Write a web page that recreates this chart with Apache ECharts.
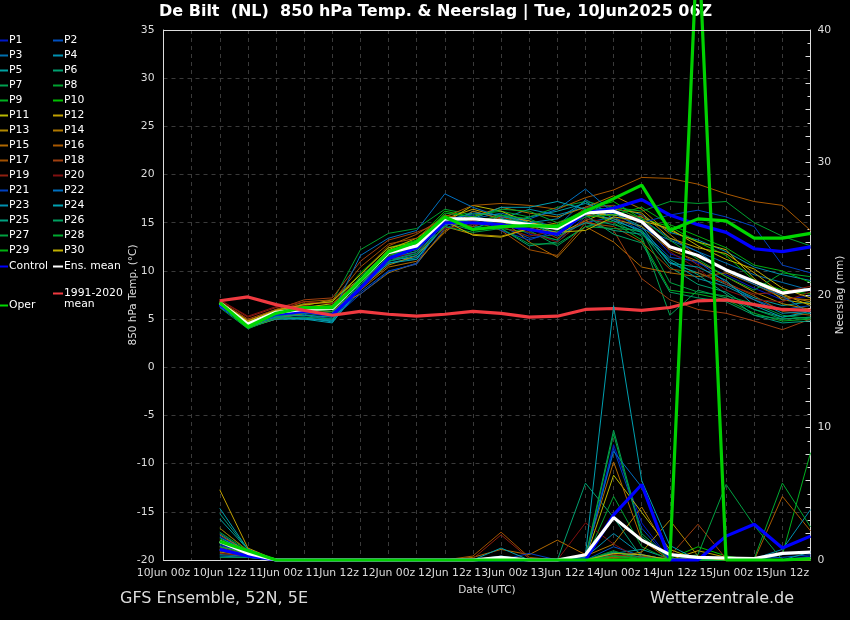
<!DOCTYPE html>
<html>
<head>
<meta charset="utf-8">
<title>De Bilt 850 hPa</title>
<script src="https://cdn.jsdelivr.net/npm/echarts@6/dist/echarts.min.js"></script>
<style>
  html, body { margin: 0; padding: 0; background: #000; }
  #chart { width: 850px; height: 620px; }
</style>
</head>
<body>
<div id="chart"></div>
<script>
// time steps on the axis, 6 hourly; the model run starts at 10Jun 12z
const times = ['10Jun 00z','10Jun 06z','10Jun 12z','10Jun 18z','11Jun 00z','11Jun 06z','11Jun 12z','11Jun 18z',
  '12Jun 00z','12Jun 06z','12Jun 12z','12Jun 18z','13Jun 00z','13Jun 06z','13Jun 12z','13Jun 18z',
  '14Jun 00z','14Jun 06z','14Jun 12z','14Jun 18z','15Jun 00z','15Jun 06z','15Jun 12z','15Jun 18z'];

const memberColors = ['#0018c8','#0050c0','#0070b0','#0090b0','#00a0a0','#00a070','#00a050','#00a030','#00b020','#00c000',
  '#b8b800','#c0a000','#b08800','#b07800','#b06800','#a85800','#a05000','#a04010','#902010','#801010',
  '#0040c0','#0070c0','#0090b0','#00a0b0','#00a080','#00a060','#00a040','#00a830','#00b010','#c0b000'];

// 850 hPa temperature
const tempP1  = [6.4,4.4,5.4,5.7,5.2,8.0,11.0,12.0,14.8,15.0,15.2,13.8,13.2,15.6,16.0,15.0,11.8,10.8,9.6,8.2,7.0,7.4];
const tempP2  = [6.5,4.2,5.2,5.5,5.0,7.8,10.0,10.7,14.4,15.6,14.6,13.4,13.8,15.0,15.6,14.2,11.4,11.0,8.8,7.0,6.0,6.4];
const tempP3  = [6.3,4.3,5.3,5.4,4.9,8.4,11.2,11.8,15.0,15.4,16.0,15.2,14.6,17.4,15.8,15.4,13.4,12.0,10.8,9.6,8.8,8.0];
const tempP4  = [6.6,4.5,5.1,5.2,4.7,8.2,10.8,11.4,14.6,16.2,15.4,16.4,15.8,16.6,16.8,15.8,14.0,13.2,12.0,10.4,9.6,9.0];
const tempP5  = [6.4,4.1,5.0,5.1,4.8,8.6,11.4,11.2,15.2,15.0,14.8,15.6,16.2,17.0,16.0,14.6,10.8,9.8,8.6,7.2,6.4,6.8];
const tempP6  = [6.5,4.3,5.5,5.8,5.6,9.0,11.6,12.2,15.4,14.6,14.4,12.6,13.0,15.4,14.8,14.0,10.4,8.6,7.8,6.0,5.2,5.6];
const tempP7  = [6.2,4.0,5.2,5.6,5.4,8.8,11.4,12.4,15.6,14.8,15.2,14.2,12.6,14.6,15.2,13.6,5.4,8.0,7.2,6.0,5.0,5.2];
const tempP8  = [6.6,4.6,5.8,6.6,6.8,12.2,13.9,14.4,16.4,15.8,16.2,15.6,16.6,17.2,16.6,16.2,17.2,17.0,17.2,15.0,13.6,12.6];
const tempP9  = [6.7,4.4,5.6,6.0,6.0,9.4,12.0,12.6,15.8,15.0,14.4,14.0,13.2,16.2,15.0,13.2,8.0,7.6,7.0,5.6,4.8,5.0];
const tempP10 = [6.8,4.5,5.9,6.3,6.4,9.8,12.4,13.2,16.2,15.6,15.0,14.6,14.8,16.4,17.2,15.4,14.6,13.0,11.6,9.0,8.0,7.6];
const tempP11 = [6.5,4.7,5.7,6.2,6.6,9.0,11.8,12.8,15.0,16.8,16.2,15.0,14.6,16.0,15.8,15.6,14.2,13.0,12.2,9.2,7.0,6.6];
const tempP12 = [6.6,4.8,6.0,6.4,7.0,9.2,12.2,13.4,15.4,16.4,15.6,15.2,13.8,15.2,16.4,16.0,13.4,12.4,11.8,9.8,7.6,6.4];
const tempP13 = [6.4,4.2,5.1,5.6,5.8,8.2,10.6,11.6,14.6,13.8,13.6,14.4,15.0,15.8,15.4,14.6,12.2,11.0,9.4,7.8,6.6,6.0];
const tempP14 = [6.7,4.3,5.4,6.0,6.2,7.6,9.8,10.8,14.2,15.6,16.6,16.0,15.6,16.6,17.8,16.4,13.8,11.4,10.2,8.8,7.4,6.8];
const tempP15 = [6.5,4.1,5.0,5.6,6.4,8.0,10.4,11.0,14.0,16.2,15.4,13.0,11.4,14.6,13.0,10.4,9.8,9.4,9.8,8.6,7.2,7.0];
const tempP16 = [6.8,4.9,5.8,6.8,7.0,9.6,12.6,13.8,15.6,16.8,17.0,16.8,16.4,17.6,18.4,19.7,19.6,19.0,18.0,17.2,16.8,14.2];
const tempP17 = [6.6,4.6,5.6,6.6,6.8,10.4,12.8,13.4,15.8,15.2,14.2,12.2,11.6,15.0,14.6,13.0,10.2,9.8,8.8,7.4,5.8,5.4];
const tempP18 = [6.9,5.0,6.0,7.0,7.2,11.0,13.2,14.0,15.2,14.6,15.6,14.8,13.4,15.2,14.2,9.2,7.0,6.0,5.6,4.8,3.9,5.0];
const tempP19 = [7.0,5.2,6.2,6.8,6.6,9.2,11.6,12.6,14.8,15.2,14.6,13.6,14.2,16.6,16.8,15.2,12.6,10.6,8.6,7.6,7.8,8.4];
const tempP20 = [7.0,5.3,6.3,6.4,6.2,8.8,11.2,12.0,14.4,14.8,15.0,14.0,13.0,15.4,15.0,15.8,12.0,10.2,8.0,7.0,6.8,7.8];
const tempP21 = [6.3,4.3,5.2,5.2,5.0,7.6,9.9,10.8,15.4,15.8,14.2,13.2,14.2,16.2,16.4,15.0,15.8,16.3,15.6,14.6,10.6,9.8];
const tempP22 = [6.5,4.5,5.4,5.6,5.6,11.6,13.4,14.2,18.0,16.6,15.6,15.4,16.4,18.5,16.0,14.4,13.2,12.0,10.0,8.6,7.4,5.6];
const tempP23 = [6.4,4.4,5.2,5.0,4.9,8.6,11.0,11.6,15.2,16.0,15.8,15.0,15.4,17.2,15.4,14.0,11.0,9.2,8.4,7.0,5.6,5.8];
const tempP24 = [6.3,4.2,5.0,5.0,4.6,8.4,10.8,11.2,14.8,15.4,16.6,16.6,17.2,16.4,15.2,14.2,10.8,10.4,9.0,6.4,5.2,5.8];
const tempP25 = [6.6,4.6,5.3,5.4,5.2,8.8,11.4,12.0,15.4,14.4,15.4,15.0,13.6,15.0,14.2,13.8,11.2,9.6,7.6,5.4,4.6,4.8];
const tempP26 = [6.4,4.3,5.5,5.6,5.4,9.2,11.8,12.2,15.0,14.2,15.8,14.8,14.0,15.8,13.8,12.9,7.8,7.2,6.8,5.4,5.0,5.2];
const tempP27 = [6.5,4.0,5.1,5.2,5.0,8.6,11.0,11.8,14.6,14.0,14.4,12.8,12.8,14.6,14.4,14.2,8.8,7.8,7.4,6.6,5.4,5.0];
const tempP28 = [6.7,4.5,5.7,6.0,5.8,9.4,12.0,12.8,16.0,15.6,16.4,16.2,15.0,16.2,16.6,15.4,13.2,11.2,9.4,8.0,9.8,9.4];
const tempP29 = [6.6,4.4,5.6,5.8,6.0,9.0,11.6,12.4,15.6,15.0,15.8,15.4,14.2,15.6,15.8,16.6,14.8,13.6,12.4,10.6,10.0,8.8];
const tempP30 = [6.8,4.8,5.9,6.5,6.8,9.6,12.4,13.0,15.2,13.7,13.5,14.4,14.0,14.2,15.6,15.2,14.4,12.6,11.2,10.2,8.2,7.2];
const tempControl = [6.5,4.4,5.5,5.8,5.4,8.2,11.3,12.4,15.0,15.0,14.8,14.3,13.8,16.0,16.5,17.4,15.8,14.8,14.0,12.3,12.0,12.5];
const tempMean    = [6.7,4.5,5.7,6.0,6.1,9.0,11.9,12.6,15.4,15.4,15.2,14.8,14.4,16.0,16.2,15.1,12.5,11.6,10.1,8.9,7.7,8.1];
const tempOper    = [6.7,4.2,5.6,6.2,6.2,9.0,12.0,13.0,15.6,14.3,14.6,14.7,14.6,16.2,17.5,18.9,14.2,15.4,15.2,13.4,13.4,13.9];
const tempClimate = [6.9,7.3,6.5,5.9,5.4,5.8,5.5,5.3,5.5,5.8,5.6,5.2,5.3,6.0,6.1,5.9,6.2,6.9,7.0,6.5,6.0,5.9];

// precipitation
const rainP1  = [1.8,0.6,0,0,0,0,0,0,0,0,0,0,0,0.1,8.7,2.8,0,0.1,0,0,0,0.3];
const rainP2  = [1.1,0.5,0,0,0,0,0,0,0,0,0,0,0,0,1.0,0.3,0,0,0,0.1,0.2,0.4];
const rainP3  = [2.0,0.6,0,0,0,0,0,0,0,0,0,0,0,0,0.6,0.2,0.1,0,0,0,0,0.2];
const rainP4  = [0.4,0.3,0,0,0,0,0,0,0,0,0.3,0,0,0.2,2.0,0.4,0,0,0,0,0,0];
const rainP5  = [3.1,0.8,0,0,0,0,0,0,0,0,0,0,0,0,0.5,0.8,0.1,0,0,0,0,0.6];
const rainP6  = [0.8,0.5,0,0,0,0,0,0,0,0,0,0,0,5.8,3.2,0.2,0,0,0,0,0,0];
const rainP7  = [1.4,0.6,0,0,0,0,0,0,0,0,0,0,0,0.2,9.8,2.0,0.1,0,0,0,0,0];
const rainP8  = [0.7,0.4,0,0,0,0,0,0,0,0,0,0,0,0,4.8,1.0,0,0,0,0,0,0];
const rainP9  = [2.4,0.7,0,0,0,0,0,0,0,0,0,0,0,0,0.2,0.1,0,0,0,0,0.4,8.1];
const rainP10 = [1.6,0.7,0,0,0,0,0,0,0,0,0,0,0,0,0.4,0,0.1,1.0,0.3,0,0,0];
const rainP11 = [1.0,0.5,0,0,0,0,0,0,0,0,0,0,0,0.1,6.4,3.6,0.8,0,0,0,0,0];
const rainP12 = [5.3,0.9,0,0,0,0,0,0,0,0,0,0,0,0,0.3,0.2,0,0.7,0.2,0,0,0];
const rainP13 = [0.6,0.3,0,0,0,0,0,0,0,0,0,0,0,0,0.2,0.6,3.0,0.3,0,0,0,0];
const rainP14 = [1.9,0.6,0,0,0,0,0,0,0,0,0.1,0,0,0.3,1.2,4.0,0.5,0,0,0,0,0];
const rainP15 = [1.3,0.5,0,0,0,0,0,0,0,0.2,0.8,0.4,1.5,0.4,7.4,1.5,0,0,0,0,0,0];
const rainP16 = [2.4,0.7,0,0,0,0,0,0,0,0,0,0,0,0,0.4,0,0,0,0,0,4.8,2.2];
const rainP17 = [0.9,0.4,0,0,0,0,0,0,0,0.3,2.1,0.2,0,0,0.2,0.3,0,0,0,0,0,0];
const rainP18 = [1.5,0.5,0,0,0,0,0,0,0,0,0,0,0,0,0.1,0,0.3,2.7,0.1,0,0,0];
const rainP19 = [0.5,0.3,0,0,0,0,0,0,0,0.1,1.9,0.1,0,0,0.4,0.2,0,0,0,0,0,0];
const rainP20 = [0.7,0.4,0,0,0,0,0,0,0,0,0,0,0,2.8,1.2,0,0,0,0,0,0,0];
const rainP21 = [1.2,0.5,0,0,0,0,0,0,0,0,0,0.5,0,0,8.4,2.4,0,0,0,0,0.4,0.6];
const rainP22 = [0.3,0.2,0,0,0,0,0,0,0,0,0.2,0,0,0.2,8.2,5.5,0.4,0,0,0,0,0];
const rainP23 = [1.7,0.6,0,0,0,0,0,0,0,0,0,0,0,0,0.5,0.4,0,0,0,0.1,0.8,3.8];
const rainP24 = [3.9,0.8,0,0,0,0,0,0,0,0,0.9,0,0,0.4,19.2,6.0,1.1,0,0,0,0,0];
const rainP25 = [3.5,0.8,0,0,0,0,0,0,0,0,0,0,0,0,0.3,0.1,0,0.2,0,0,0,0];
const rainP26 = [0.2,0.2,0,0,0,0,0,0,0,0,0,0,0,0,0.6,0.2,0,0,0,0,0,0];
const rainP27 = [1.0,0.5,0,0,0,0,0,0,0,0,0,0,0,0.1,9.5,1.8,0,0.4,5.7,2.6,0,0];
const rainP28 = [2.1,0.7,0,0,0,0,0,0,0,0,0,0,0,0,0.7,0,0,0,0,0.1,5.8,2.5];
const rainP29 = [1.4,0.6,0,0,0,0,0,0,0,0,0,0,0,0,0.3,0.1,0,0,0,0,0,0];
const rainP30 = [0.8,0.4,0,0,0,0,0,0,0,0,0,0,0,0,0.5,0.4,0,0.2,0,0,0,0];
const rainControl = [0.8,0.3,0,0,0,0,0,0,0,0,0,0,0,0,3.4,5.7,0,0,1.8,2.7,0.9,1.8];
const rainMean    = [1.4,0.5,0,0,0,0,0,0,0,0,0.2,0,0,0.4,3.2,1.5,0.4,0.2,0.15,0.1,0.5,0.6];
const rainOper    = [1.4,0.7,0,0,0,0,0,0,0,0,0,0,0,0,0,0,0,47.7,0,0,0,0.1];

const tempMembers = [tempP1,tempP2,tempP3,tempP4,tempP5,tempP6,tempP7,tempP8,tempP9,tempP10,
  tempP11,tempP12,tempP13,tempP14,tempP15,tempP16,tempP17,tempP18,tempP19,tempP20,
  tempP21,tempP22,tempP23,tempP24,tempP25,tempP26,tempP27,tempP28,tempP29,tempP30];
const rainMembers = [rainP1,rainP2,rainP3,rainP4,rainP5,rainP6,rainP7,rainP8,rainP9,rainP10,
  rainP11,rainP12,rainP13,rainP14,rainP15,rainP16,rainP17,rainP18,rainP19,rainP20,
  rainP21,rainP22,rainP23,rainP24,rainP25,rainP26,rainP27,rainP28,rainP29,rainP30];

const climateName = '1991-2020';

function line(name, values, color, width, yAxisIndex) {
  return {
    name, type: 'line', yAxisIndex,
    data: [null, null, ...values],
    showSymbol: false, symbol: 'none', clip: false, silent: true,
    itemStyle: { color },
    lineStyle: { color, width }
  };
}

const series = [];
tempMembers.forEach((v, i) => series.push(line('P' + (i + 1), v, memberColors[i], 1, 0)));
series.push(line('Control', tempControl, '#0000ff', 3.2, 0));
series.push(line('Ens. mean', tempMean, '#ffffff', 3.2, 0));
series.push(line('Oper', tempOper, '#00d800', 3.2, 0));
series.push(line(climateName, tempClimate, '#f03a40', 3.2, 0));
rainMembers.forEach((v, i) => series.push(line('P' + (i + 1), v, memberColors[i], 1, 1)));
series.push(line('Control', rainControl, '#0000ff', 3.2, 1));
series.push(line('Ens. mean', rainMean, '#ffffff', 3.2, 1));
series.push(line('Oper', rainOper, '#00d000', 3.2, 1));

function legend(names, left, top) {
  return {
    data: names, left, top, itemGap: 4, padding: 0, orient: 'vertical', selectedMode: false,
    icon: 'rect', itemWidth: 10, itemHeight: 2,
    textStyle: { color: '#fff', fontSize: 10.8, padding: [0, 0, 0, -4], lineHeight: 11 }
  };
}
const odd = [], even = [];
memberColors.forEach((c, i) => (i % 2 ? even : odd).push('P' + (i + 1)));

function heading(text, left, top, fontSize, fontWeight, color) {
  return { text, left, top, z: 1, padding: 0, textStyle: { color, fontSize, fontWeight, fontFamily: 'DejaVu Sans' } };
}

const chart = echarts.init(document.getElementById('chart'), null, { renderer: 'canvas' });
chart.setOption({
  animation: false,
  backgroundColor: '#000',
  textStyle: { fontFamily: 'DejaVu Sans' },
  title: [
    heading('De Bilt  (NL)  850 hPa Temp. & Neerslag | Tue, 10Jun2025 06Z', 159, 4, 16, 'bold', '#fff'),
    heading('GFS Ensemble, 52N, 5E', 120, 591, 16, 'normal', '#ddd'),
    heading('Wetterzentrale.de', 650, 591, 16, 'normal', '#ddd'),
    heading('mean', 64, 299, 10.8, 'normal', '#fff')
  ],
  legend: [
    legend(odd, -2, 35),
    legend(even, 53, 35),
    legend(['Control'], -2, 261),
    legend(['Ens. mean'], 53, 261),
    legend([climateName], 53, 288),
    legend(['Oper'], -2, 300)
  ],
  grid: { left: 163.5, right: 39.5, top: 30, bottom: 60, show: false, outerBoundsMode: 'none' },
  xAxis: {
    type: 'category', data: times, boundaryGap: false,
    name: 'Date (UTC)', nameLocation: 'middle', nameGap: 25, nameMoveOverlap: false,
    nameTextStyle: { color: '#ddd', fontSize: 10.5 },
    axisLine: { onZero: false, lineStyle: { color: '#ddd', width: 1 } },
    axisTick: { show: false },
    axisLabel: { interval: 1, color: '#ddd', fontSize: 10.8, margin: 8, hideOverlap: false },
    splitLine: { show: true, interval: 0, lineStyle: { color: '#3a3a3a', type: [4, 4], width: 1 } }
  },
  yAxis: [
    {
      type: 'value', min: -20, max: 35, interval: 5, position: 'left',
      name: '850 hPa Temp. (°C)', nameLocation: 'middle', nameGap: 25, nameRotate: 90, nameMoveOverlap: false,
      nameTextStyle: { color: '#ddd', fontSize: 10.5 },
      axisLine: { show: true, lineStyle: { color: '#ddd', width: 1 } },
      axisTick: { show: false },
      axisLabel: { color: '#ddd', fontSize: 10.8, margin: 9 },
      splitLine: { show: true, lineStyle: { color: '#3a3a3a', type: [4, 4], width: 1 } }
    },
    {
      type: 'value', min: 0, max: 40, interval: 2, position: 'right',
      name: 'Neerslag (mm)', nameLocation: 'middle', nameGap: 24, nameRotate: 90, nameMoveOverlap: false,
      nameTextStyle: { color: '#ddd', fontSize: 10.5 },
      axisLine: { show: true, lineStyle: { color: '#ddd', width: 1 } },
      axisTick: { show: true, inside: true, length: 5, lineStyle: { color: '#ddd' } },
      minorTick: { show: true, splitNumber: 2, length: 3, lineStyle: { color: '#ddd' } },
      axisLabel: { color: '#ddd', fontSize: 10.8, margin: 7, formatter: v => (v % 10 === 0 ? String(v) : '') },
      splitLine: { show: false }
    }
  ],
  graphic: [
    // top edge of the frame
    { type: 'line', z: 10, shape: { x1: 163.5, y1: 30.5, x2: 810.5, y2: 30.5 }, style: { stroke: '#ddd', lineWidth: 1 }, silent: true }
  ],
  series
});
</script>
</body>
</html>
